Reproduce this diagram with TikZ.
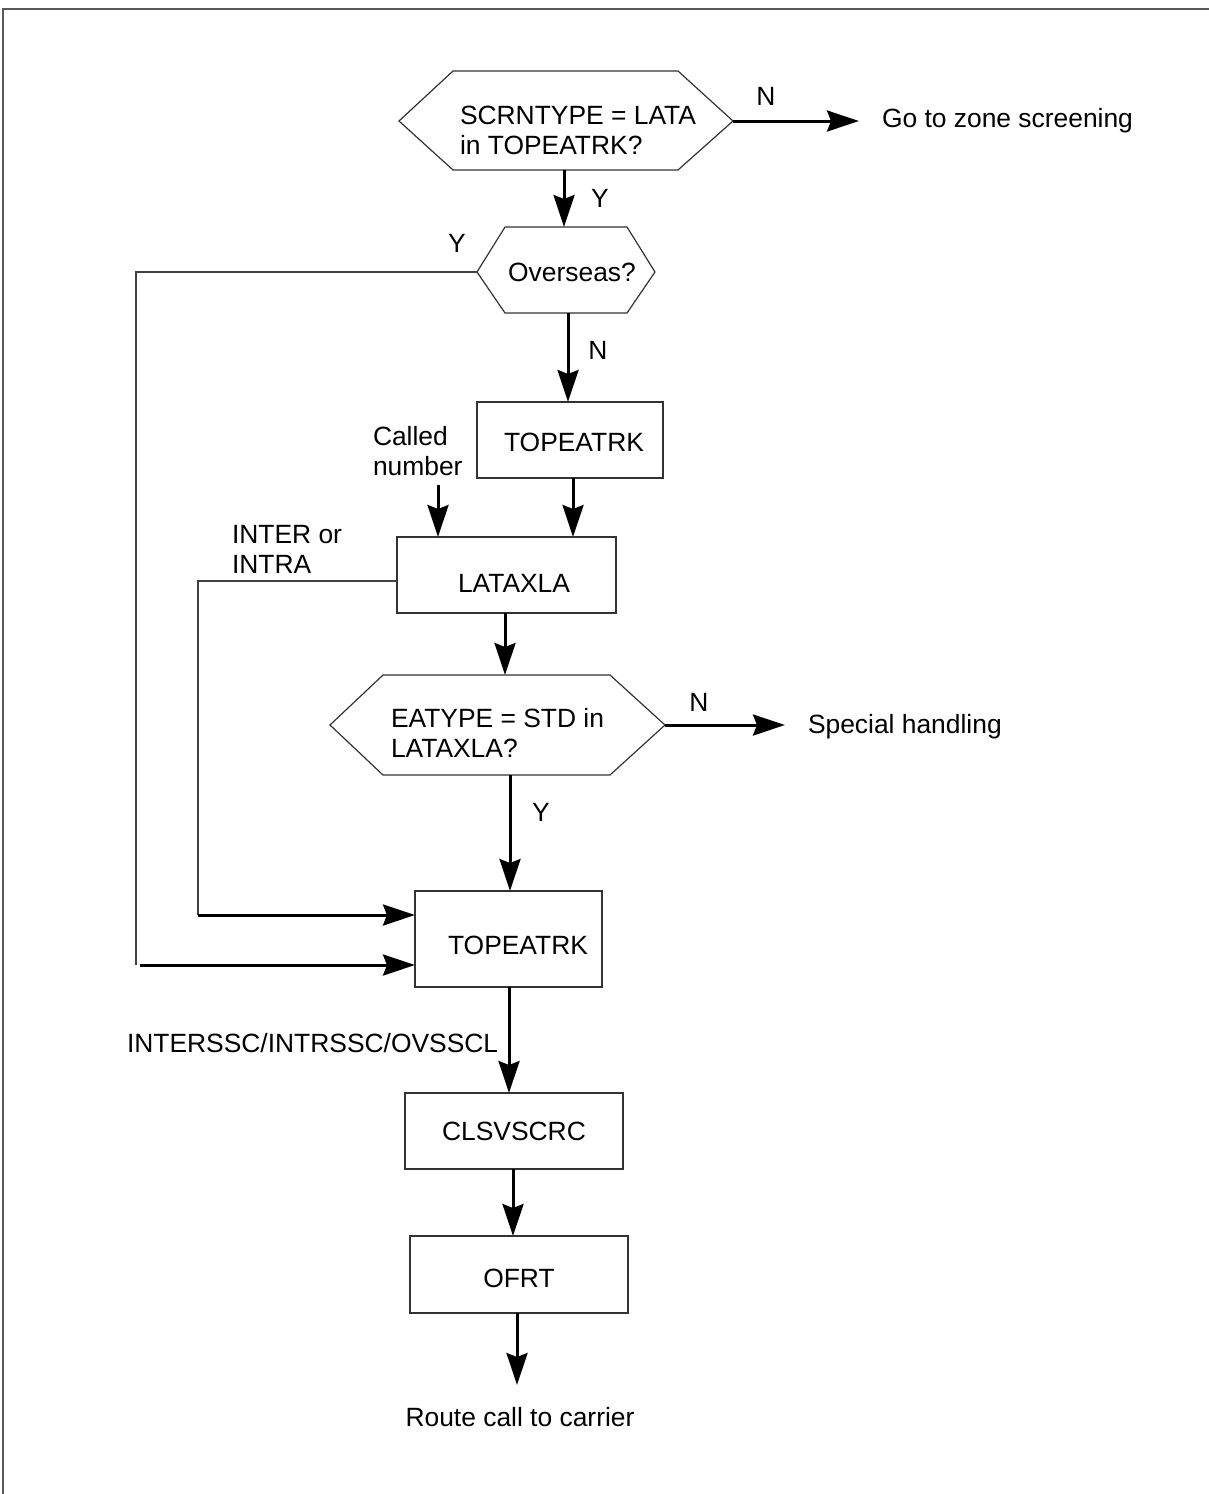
\documentclass[tikz,border=0pt]{standalone}
\usepackage{fontspec}
\setmainfont{Liberation Sans}
\usetikzlibrary{arrows.meta}
\begin{document}
\begin{tikzpicture}[x=0.5pt,y=-0.5pt,
  every node/.style={font=\fontsize{13.2pt}{15pt}\selectfont, inner sep=0pt, outer sep=0pt},
  box/.style={draw=black!80, line width=0.65pt},
  hexa/.style={draw=black!80, line width=0.6pt},
  arr/.style={line width=1.5pt, -{Stealth[length=16pt,width=10.5pt,inset=2pt]}},
  thinline/.style={line width=0.6pt, draw=black!75},
  txt/.style={anchor=base west, align=left},
  lbl/.style={anchor=base}]
\useasboundingbox (0,0) rectangle (1209,1494);
% frame
\draw[line width=0.8pt, black!65] (3,1494) -- (3,9) -- (1209,9);

% hexagon 1
\coordinate (h1w) at (399,121); \coordinate (h1a) at (453,71);
\coordinate (h1b) at (678,71);  \coordinate (h1e) at (733,121);
\coordinate (h1c) at (678,170); \coordinate (h1d) at (453,170);
\coordinate (h1s) at (564,170);
\draw[hexa] (h1w) -- (h1a) -- (h1b) -- (h1e) -- (h1c) -- (h1d) -- cycle;
\node[txt] (q1) at (460,154) {SCRNTYPE = LATA\\in TOPEATRK?};

% hexagon 2 (Overseas)
\coordinate (h2w) at (477,272); \coordinate (h2a) at (505,227);
\coordinate (h2b) at (627,227); \coordinate (h2e) at (655,272);
\coordinate (h2c) at (627,313); \coordinate (h2d) at (505,313);
\coordinate (h2n) at (564,227); \coordinate (h2s) at (568,313);
\draw[hexa] (h2w) -- (h2a) -- (h2b) -- (h2e) -- (h2c) -- (h2d) -- cycle;
\node[lbl] (q2) at (572,281) {Overseas?};

% hexagon 3 (EATYPE)
\coordinate (h3w) at (330,725); \coordinate (h3a) at (383,675);
\coordinate (h3b) at (610,675); \coordinate (h3e) at (665,725);
\coordinate (h3c) at (610,775); \coordinate (h3d) at (383,775);
\coordinate (h3n) at (505,675); \coordinate (h3s) at (510,775);
\draw[hexa] (h3w) -- (h3a) -- (h3b) -- (h3e) -- (h3c) -- (h3d) -- cycle;
\node[txt] (q3) at (391,757) {EATYPE = STD in\\LATAXLA?};

% boxes
\node[box, minimum width=93pt, minimum height=38pt, text height=11pt, text depth=0pt] (t1) at (570,440) {\hspace*{4pt}TOPEATRK};
\node[box, minimum width=109.5pt, minimum height=38pt, text height=17.5pt, text depth=0pt] (lx) at (506.5,575) {\hspace*{7.5pt}LATAXLA};
\node[box, minimum width=93.5pt, minimum height=48pt, text height=15.5pt, text depth=0pt] (t2) at (508.5,939) {\hspace*{9.5pt}TOPEATRK};
\node[box, minimum width=109pt, minimum height=38pt] (cl) at (514,1131) {CLSVSCRC};
\node[box, minimum width=109pt, minimum height=38.5pt, text height=12.5pt, text depth=0pt] (of) at (519,1274.5) {OFRT};

% free texts
\node[txt] (goz) at (882,127) {Go to zone screening};
\node[txt] (sph) at (808,733) {Special handling};
\node[txt] (cn) at (373,475) {Called\\number};
\node[txt] (ii) at (232,573) {INTER or\\INTRA};
\node[txt] (iss) at (127,1052) {INTERSSC/INTRSSC/OVSSCL};
\node[lbl] (rc) at (520,1426) {Route call to carrier};

% labels
\node[lbl] (n1) at (766,105) {N};
\node[lbl] (y1) at (600,207) {Y};
\node[lbl] (y2) at (457,252) {Y};
\node[lbl] (n2) at (598,359) {N};
\node[lbl] (n3) at (699,711) {N};
\node[lbl] (y3) at (541,821) {Y};

% connectors
\coordinate (goa) at (859,121);
\draw[arr] (h1e) -- (goa);
\draw[arr] (h1s) -- (h2n);
\draw[arr] (h2s) -- (568,0 |- t1.north);
\draw[arr] (573,0 |- t1.south) -- (573,0 |- lx.north);
\coordinate (cnb) at (438,485);
\draw[arr] (cnb) -- (438,0 |- lx.north);
\draw[arr] (505,0 |- lx.south) -- (h3n);
\coordinate (spa) at (785,725);
\draw[arr] (h3e) -- (spa);
\draw[arr] (h3s) -- (510,0 |- t2.north);
\draw[arr] (509,0 |- t2.south) -- (509,0 |- cl.north);
\draw[arr] (513,0 |- cl.south) -- (513,0 |- of.north);
\coordinate (rca) at (517,1385);
\draw[arr] (517,0 |- of.south) -- (rca);

% overseas Y branch
\coordinate (ovc) at (136,272);
\coordinate (ovb) at (136,965);
\draw[thinline] (h2w) -- (ovc) -- (ovb);
\draw[arr] (140,965) -- (t2.west |- ovb);

% INTER/INTRA branch
\coordinate (ic) at (198,581);
\coordinate (ib) at (198,915);
\draw[thinline] (lx.west |- ic) -- (ic) -- (ib);
\draw[arr] (ib) -- (t2.west |- ib);
\end{tikzpicture}
\end{document}
